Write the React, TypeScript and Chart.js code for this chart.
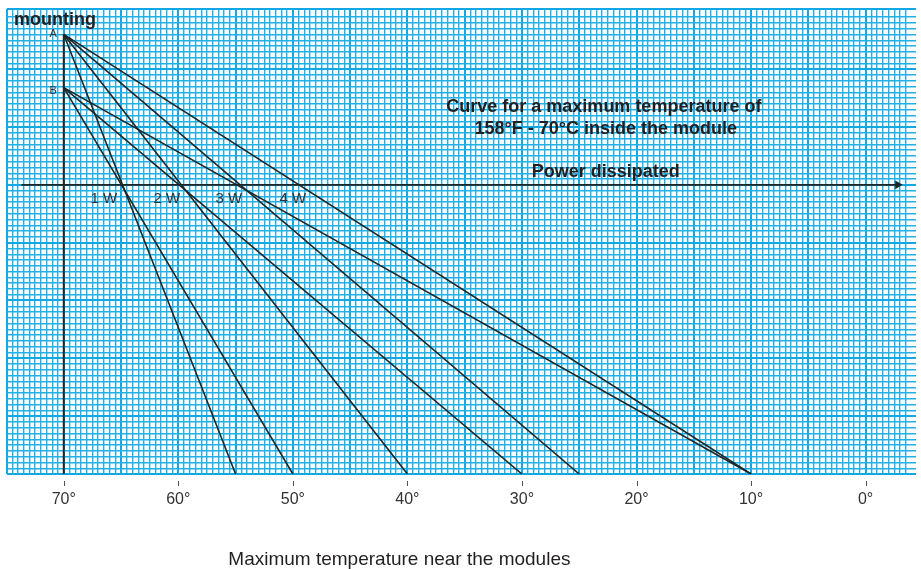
import React, { useEffect, useRef } from 'react';
import { Chart, registerables } from 'chart.js';

Chart.register(...registerables);

// ---- data ----
const xTickValues = [70, 60, 50, 40, 30, 20, 10, 0];
const mountingTemp = 70;
const levelA = 13;
const levelB = 8.4;
const bottomLevel = -25;
const endsFromA = [55, 40, 25, 10];
const endsFromB = [50, 30, 10];
const powerLabels = ['1 W', '2 W', '3 W', '4 W'];
const powerLabelTemps = [66.5, 61.0, 55.6, 50.0];
const powerAxisStart = 73.7;
const powerAxisEnd = -2.8;

const X_MIN = -4.4;
const X_MAX = 75;
const Y_MIN = -25;
const Y_MAX = 15.2;

const FONT = '"Liberation Sans", Arial, Helvetica, sans-serif';
const BLUE = '#12a8e3';
const BLUE_MINOR = '#22b0e8';
const INK = '#1e2626';

const isMultiple = (v: number, m: number) => Math.abs(v / m - Math.round(v / m)) < 1e-6;

const annotations = {
  id: 'annotations',
  afterDraw(chart: any) {
    const { ctx } = chart;
    const xs = chart.scales.x;
    const ys = chart.scales.y;
    const X = (v: number) => xs.getPixelForValue(v);
    const Y = (v: number) => ys.getPixelForValue(v);
    ctx.save();
    // small tick marks under the grid
    ctx.strokeStyle = '#555';
    ctx.lineWidth = 1;
    xTickValues.forEach((v) => {
      const px = Math.round(X(v)) + 0.5;
      ctx.beginPath();
      ctx.moveTo(px, ys.bottom + 7);
      ctx.lineTo(px, ys.bottom + 12);
      ctx.stroke();
    });

    ctx.fillStyle = '#231f20';
    ctx.textBaseline = 'alphabetic';
    ctx.font = `bold 18px ${FONT}`;
    ctx.textAlign = 'left';
    ctx.fillText('mounting', X(74.35), Y(13.85));
    ctx.textAlign = 'center';
    ctx.fillText('Curve for a maximum temperature of', X(22.85), Y(6.32));
    ctx.fillText('158°F - 70°C inside the module', X(22.68), Y(4.42));
    ctx.fillText('Power dissipated', X(22.68), Y(0.69));

    ctx.font = `11px ${FONT}`;
    ctx.fillStyle = '#333';
    ctx.textAlign = 'right';
    ctx.fillText('A', X(70.6), Y(12.8));
    ctx.fillText('B', X(70.6), Y(7.88));

    ctx.font = `15px ${FONT}`;
    ctx.textAlign = 'center';
    powerLabels.forEach((t, i) => {
      ctx.fillText(t, X(powerLabelTemps[i]), Y(-1.56));
    });

    ctx.font = `19px ${FONT}`;
    ctx.fillStyle = '#231f20';
    ctx.fillText('Maximum temperature near the modules', X(40.7), chart.height - 4);
    ctx.restore();
  },
};

export default function App() {
  const ref = useRef<HTMLCanvasElement>(null);
  useEffect(() => {
    if (!ref.current) return;
    const line = (pts: { x: number; y: number }[], width = 1.6) => ({
      data: pts,
      borderColor: INK,
      borderWidth: width,
      pointRadius: 0,
      fill: false,
      tension: 0,
    });
    const datasets: any[] = [];
    endsFromA.forEach((e) =>
      datasets.push(line([{ x: mountingTemp, y: levelA }, { x: e, y: bottomLevel }]))
    );
    endsFromB.forEach((e) =>
      datasets.push(line([{ x: mountingTemp, y: levelB }, { x: e, y: bottomLevel }]))
    );
    datasets.push(line([{ x: mountingTemp, y: levelA }, { x: mountingTemp, y: bottomLevel }], 2));
    datasets.push({
      ...line([{ x: powerAxisStart, y: 0 }, { x: powerAxisEnd, y: 0 }], 1.8),
      pointRadius: [0, 5],
      pointStyle: 'triangle',
      rotation: 90,
      pointBackgroundColor: INK,
      pointBorderWidth: 0,
    });

    const gridColor = (c: any, top: number | null) => {
      const v = c.tick?.value;
      if (v == null) return 'transparent';
      if (top != null && Math.abs(v - top) < 1e-6) return BLUE;
      if (!isMultiple(v, 0.5)) return 'transparent';
      return isMultiple(v, 5) ? BLUE : BLUE_MINOR;
    };
    const gridWidth = (c: any, top: number | null) => {
      const v = c.tick?.value;
      if (v == null) return 1;
      if (top != null && Math.abs(v - top) < 1e-6) return 2;
      return isMultiple(v, 5) ? 2 : 1.4;
    };

    const chart = new Chart(ref.current, {
      type: 'line',
      data: { datasets },
      plugins: [annotations],
      options: {
        animation: false,
        responsive: false,
        devicePixelRatio: 1,
        events: [],
        layout: { padding: { left: 6.5, top: 9, right: 0, bottom: 0 } },
        plugins: { legend: { display: false }, tooltip: { enabled: false } },
        scales: {
          x: {
            type: 'linear',
            reverse: true,
            min: X_MIN,
            max: X_MAX,
            border: { display: false },
            grid: {
              drawTicks: false,
              color: (c: any) => gridColor(c, null),
              lineWidth: (c: any) => gridWidth(c, null),
            },
            ticks: {
              stepSize: 0.5,
              autoSkip: false,
              maxRotation: 0,
              minRotation: 0,
              padding: 16,
              color: '#333',
              font: { family: FONT, size: 16 },
              callback: (v: any) => (xTickValues.some((t) => Math.abs(t - v) < 1e-6) ? `${Math.round(v)}°` : ''),
            },
            afterFit: (s: any) => {
              s.height = 95;
              s.paddingLeft = 0;
              s.paddingRight = 0;
            },
          },
          y: {
            type: 'linear',
            min: Y_MIN,
            max: Y_MAX,
            border: { display: false },
            grid: {
              drawTicks: false,
              color: (c: any) => gridColor(c, Y_MAX),
              lineWidth: (c: any) => gridWidth(c, Y_MAX),
            },
            ticks: { display: false, stepSize: 0.5 },
            afterFit: (s: any) => {
              s.width = 0;
              s.paddingTop = 0;
              s.paddingBottom = 0;
            },
          },
        },
      } as any,
    });
    return () => chart.destroy();
  }, []);
  return (
    <div style={{ position: 'fixed', left: 0, top: 0, width: 921, height: 569, background: '#fff' }}>
      <canvas ref={ref} width={921} height={569} style={{ width: 921, height: 569, display: 'block' }} />
    </div>
  );
}
